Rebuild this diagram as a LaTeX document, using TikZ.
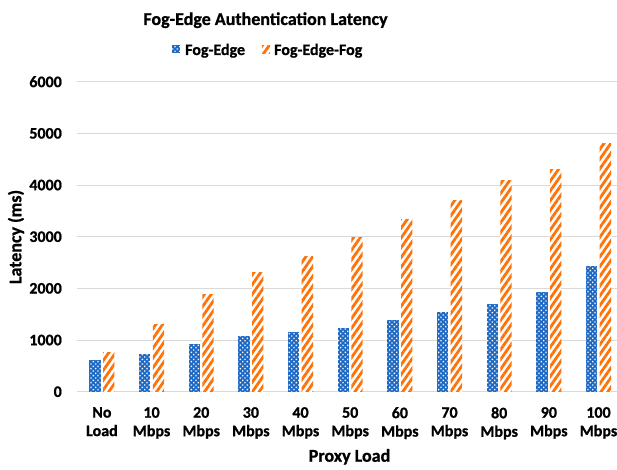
\documentclass[tikz,border=0pt]{standalone}
\usepackage{fontspec}
\setmainfont{Carlito}[BoldFeatures={FakeBold=0.9}]
\usetikzlibrary{patterns.meta}

\definecolor{barblue}{HTML}{1D68C2}
\definecolor{barorange}{HTML}{FF7208}
\definecolor{gridgray}{HTML}{D9D9D9}

\tikzset{
  gridline/.style={draw=gridgray, line width=0.8pt},
  ticklabel/.style={anchor=east, inner sep=0pt, font=\fontsize{16}{19}\selectfont\bfseries},
  catlabel/.style={anchor=north, inner sep=0pt, align=center, font=\fontsize{16}{18.5}\selectfont\bfseries},
  axistitle/.style={inner sep=0pt, font=\fontsize{18}{21}\selectfont\bfseries},
  charttitle/.style={anchor=base, inner sep=0pt, font=\fontsize{18}{21}\selectfont\bfseries},
  legendtext/.style={anchor=base west, inner sep=0pt, font=\fontsize{16}{19}\selectfont\bfseries},
  dotbar/.style={fill=barblue,
    postaction={pattern={Dots[radius=0.95pt, distance=3.3pt, angle=45]}, pattern color=white}},
  stripebar/.style={fill=white,
    postaction={pattern={Lines[angle=55, distance=5.6pt, line width=2.8pt]}, pattern color=barorange}},
}

\begin{document}
\begin{tikzpicture}[x=1pt, y=1pt]
  \useasboundingbox (0,0) rectangle (617,469);

  % value axis: 0 sits at y=77.3, 1000 ms per 51.67pt
  \foreach \v in {0,1000,...,6000} {
    \pgfmathsetmacro{\yy}{77.3 + \v*0.05167}
    \draw[gridline] (77,\yy) -- (617,\yy);
    \node[ticklabel] (tick\v) at (62,\yy) {\v};
  }

  % grouped bars and category labels
  \foreach \lab/\blue/\orange [count=\i from 0] in {
      {No\\Load}/620/760,
      {10\\Mbps}/725/1310,
      {20\\Mbps}/920/1880,
      {30\\Mbps}/1084/2310,
      {40\\Mbps}/1155/2620,
      {50\\Mbps}/1239/2990,
      {60\\Mbps}/1388/3337,
      {70\\Mbps}/1543/3697,
      {80\\Mbps}/1697/4084,
      {90\\Mbps}/1935/4304,
      {100\\Mbps}/2439/4808} {
    \pgfmathsetmacro{\cx}{101.9 + \i*49.66}
    \pgfmathsetmacro{\yb}{77.3 + \blue*0.05167}
    \pgfmathsetmacro{\yo}{77.3 + \orange*0.05167}
    \path[dotbar] (\cx-12.5,77.3) rectangle (\cx-1.2,\yb);
    \path[stripebar] (\cx+1.2,77.3) rectangle (\cx+12.5,\yo);
    \node[catlabel] (cat\i) at (\cx,62) {\lab};
  }

  % titles
  \node[charttitle] (title) at (265.5,444) {Fog-Edge Authentication Latency};
  \node[axistitle, rotate=90] (ytitle) at (16,232) {Latency (ms)};
  \node[axistitle, anchor=base] (xtitle) at (349.5,7.3) {Proxy Load};

  % legend
  \path[dotbar] (172,415.5) rectangle (180,423.5);
  \node[legendtext] (legA) at (185,414) {Fog-Edge};
  \path[stripebar] (262,415.5) rectangle (270,423.5);
  \node[legendtext] (legB) at (274,414) {Fog-Edge-Fog};
\end{tikzpicture}
\end{document}
